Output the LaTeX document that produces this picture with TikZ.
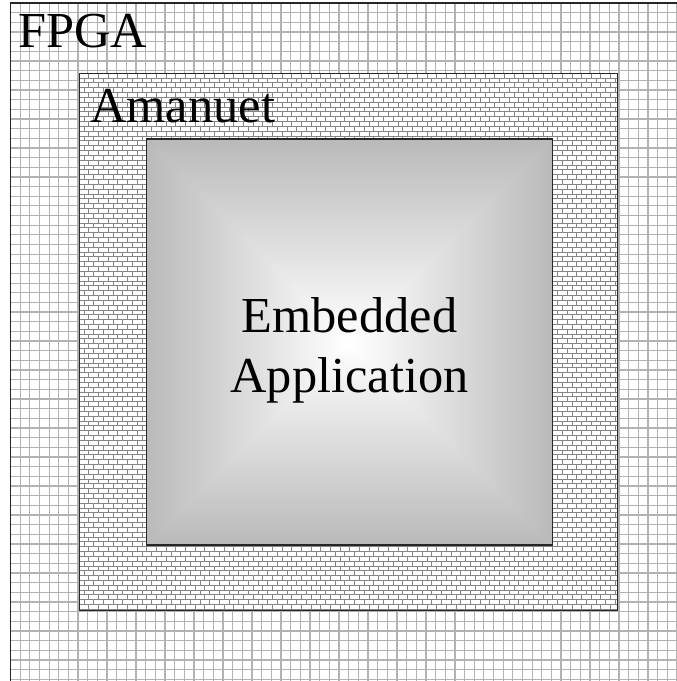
\documentclass[tikz,border=0pt]{standalone}
\usepackage{fontspec}
\setmainfont{Liberation Serif}
\begin{document}
\begin{tikzpicture}[x=0.75pt,y=-0.75pt,
  gridline/.style={draw=black!30,line width=0.95pt},
  mortar/.style={draw=black!48,line width=0.7pt},
  boxborder/.style={draw=black!85,line width=0.8pt},
  bigtext/.style={font=\fontsize{37.8pt}{45pt}\selectfont,inner sep=0pt}]
\useasboundingbox (0,0) rectangle (676,681);
% ---------- FPGA region (grid) ----------
\coordinate (fpgaTL) at (10.5,3);
\coordinate (fpgaBR) at (680,685);
\fill[white] (fpgaTL) rectangle (fpgaBR);
\begin{scope}
  \clip (fpgaTL) rectangle (fpgaBR);
  \draw[gridline] \foreach \i in {0,...,70} {({10.5+\i*9.66},3) -- ({10.5+\i*9.66},685)};
  \draw[gridline] \foreach \j in {0,...,71} {(10.5,{3+\j*9.66}) -- (680,{3+\j*9.66})};
\end{scope}
\draw[boxborder,line width=0.9pt] (10.5,685) -- (fpgaTL) -- (680,3);
% ---------- Amanuet region (bricks) ----------
\coordinate (amTL) at (79.3,73.3);
\coordinate (amBR) at (617.3,610.3);
\fill[white] (amTL) rectangle (amBR);
\begin{scope}
  \clip (amTL) rectangle (amBR);
  \draw[mortar] \foreach \j in {0,...,112} {(79.3,{73.3+\j*4.83}) -- (617.3,{73.3+\j*4.83})};
  \draw[mortar] \foreach \j in {0,...,111} {
      \foreach \i in {0,...,56} {
        ({79.3+mod(\j,2)*4.83+\i*9.66},{73.3+\j*4.83}) -- ++(0,4.83)}};
\end{scope}
\draw[boxborder] (amTL) rectangle (amBR);
% ---------- Embedded application (rectangular gradient) ----------
\coordinate (emTL) at (146.7,139);
\coordinate (emBR) at (552.3,545);
\foreach \k in {0,...,60} {
  \pgfmathsetmacro\q{27*(1-\k/60)}
  \pgfmathsetmacro\d{\k*203/61}
  \fill[black!\q] ({146.7+\d},{139+\d}) rectangle ({552.3-\d},{545-\d});
}
\draw[boxborder] (emTL) rectangle (emBR);
% ---------- labels ----------
\node[bigtext,anchor=base west] (fpga) at (18,48) {FPGA};
\node[bigtext,anchor=base west] (amanuet) at (90,123) {Amanuet};
\node[bigtext,align=center,anchor=center] (app) at (349.5,350.5) {Embedded\\Application};
\end{tikzpicture}
\end{document}
